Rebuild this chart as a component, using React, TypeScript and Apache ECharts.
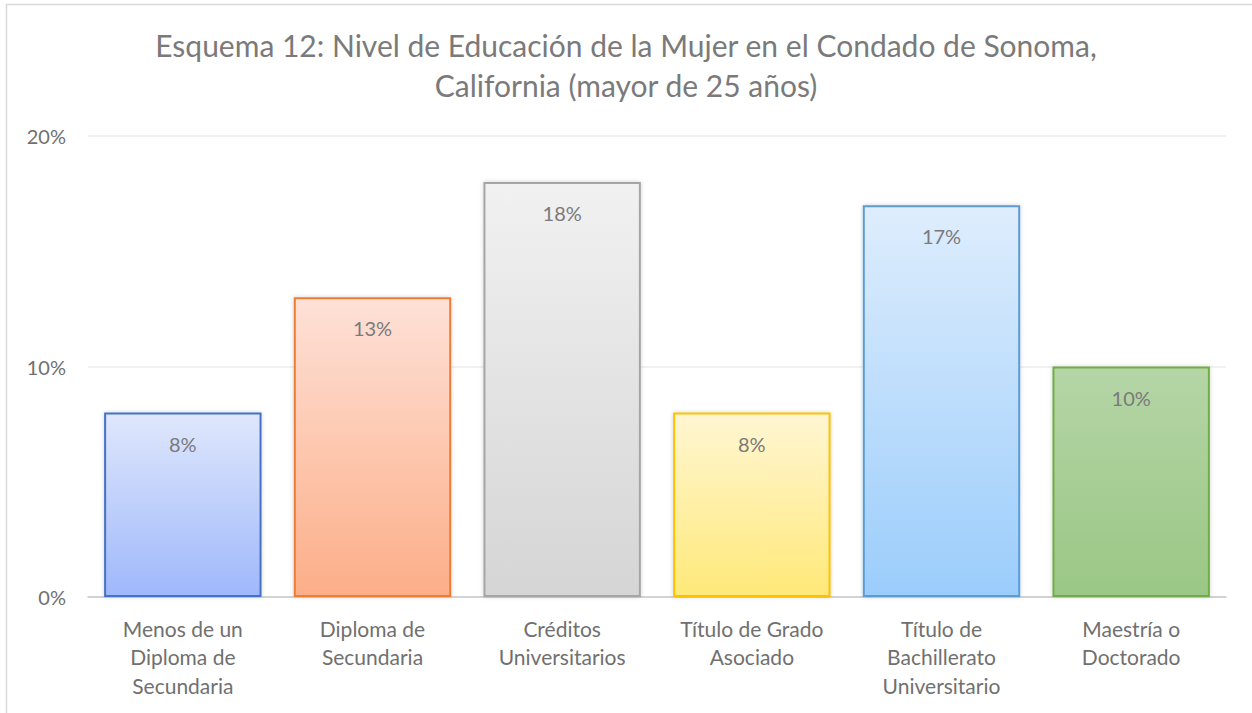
import React, { useEffect, useRef } from "react";
import * as echarts from "echarts";

const categories = [
  "Menos de un\nDiploma de\nSecundaria",
  "Diploma de\nSecundaria",
  "Créditos\nUniversitarios",
  "Título de Grado\nAsociado",
  "Título de\nBachillerato\nUniversitario",
  "Maestría o\nDoctorado",
];
const values = [8, 13, 18, 8, 17, 10];
const borderColors = ["#4472C4", "#ED7D31", "#A5A5A5", "#FFC000", "#5B9BD5", "#70AD47"];
const topColors = ["#dfe7fc", "#fee1d7", "#f1f1f1", "#fff6d3", "#deedfd", "#b5d5a6"];
const bottomColors = ["#9fb8fb", "#fcae88", "#d5d5d5", "#ffe979", "#9bcdfb", "#9ac785"];
const yTicks = [0, 10, 20];
const titleText = "Esquema 12: Nivel de Educación de la Mujer en el Condado de Sonoma,\nCalifornia (mayor de 25 años)";

const FONT = "Lato, 'Open Sans', sans-serif";

export default function App() {
  const ref = useRef<HTMLDivElement>(null);
  useEffect(() => {
    document.body.style.margin = "0";
    if (!ref.current) return;
    const chart = echarts.init(ref.current, null, { renderer: "svg" });
    chart.setOption({
      animation: false,
      backgroundColor: "#ffffff",
      textStyle: { fontFamily: FONT },
      title: {
        text: titleText,
        left: "center",
        top: 20,
        textStyle: {
          fontFamily: FONT,
          fontSize: 30,
          fontWeight: "normal",
          color: "#7a7a7a",
          lineHeight: 40,
        },
      },
      graphic: [
        {
          type: "rect",
          shape: { x: 6.5, y: 4.5, width: 1260, height: 720 },
          style: { fill: "none", stroke: "#d9d9d9", lineWidth: 1.5 },
          silent: true,
        },
      ],
      grid: { left: 88, right: 26, top: 136, bottom: 116, containLabel: false },
      xAxis: {
        type: "category",
        data: categories,
        axisLine: { show: true, lineStyle: { color: "#c8c8c8", width: 1.5 } },
        axisTick: { show: false },
        axisLabel: {
          color: "#707070",
          fontFamily: FONT,
          fontSize: 21,
          lineHeight: 28.5,
          margin: 17,
          interval: 0,
          verticalAlign: "top",
        },
      },
      yAxis: {
        type: "value",
        min: yTicks[0],
        max: yTicks[yTicks.length - 1],
        interval: 10,
        axisLine: { show: false },
        axisTick: { show: false },
        splitLine: { lineStyle: { color: "#ececec", width: 1.5 } },
        axisLabel: {
          color: "#707070",
          fontFamily: FONT,
          fontSize: 20,
          margin: 22,
          formatter: (v: number) => v + "%",
        },
      },
      series: [
        {
          type: "bar",
          barCategoryGap: "17%",
          data: values.map((v, i) => ({
            value: v,
            itemStyle: {
              color: new echarts.graphic.LinearGradient(0, 0, 0, 1, [
                { offset: 0, color: topColors[i] },
                { offset: 1, color: bottomColors[i] },
              ]),
              borderColor: borderColors[i],
              borderWidth: 2,
              shadowBlur: 4,
              shadowColor: "rgba(0,0,0,0.18)",
            },
          })),
          label: {
            show: true,
            position: "insideTop",
            distance: 21,
            fontFamily: FONT,
            fontSize: 20,
            color: "#7a7a7a",
            formatter: (p: any) => p.value + "%",
          },
        },
      ],
    });
    return () => chart.dispose();
  }, []);
  return <div ref={ref} style={{ width: 1252, height: 713 }} />;
}
